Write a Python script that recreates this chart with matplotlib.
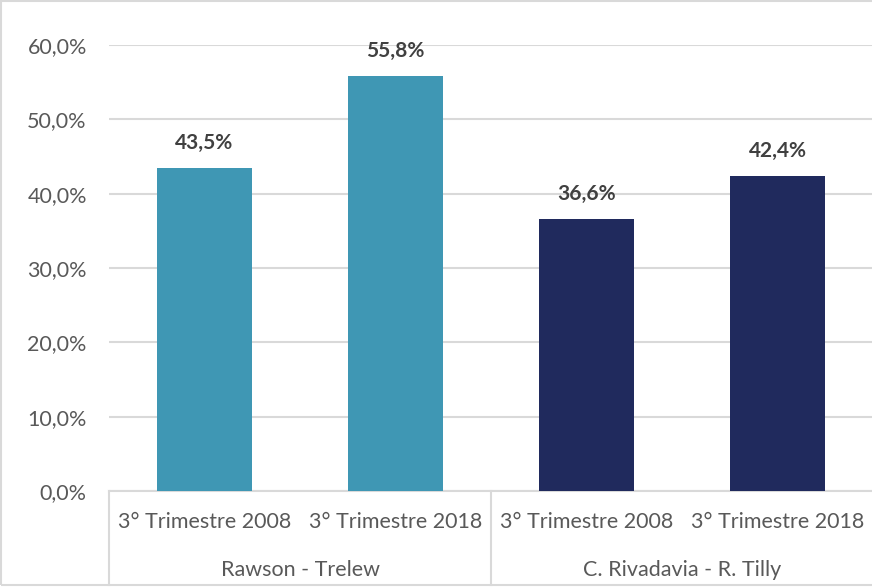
import numpy as np
import matplotlib
matplotlib.use("Agg")
import matplotlib.pyplot as plt
from matplotlib.lines import Line2D
from matplotlib.patches import Rectangle

# data
groups = ["Rawson - Trelew", "C. Rivadavia - R. Tilly"]
periods = ["3° Trimestre 2008", "3° Trimestre 2018"]
values = [43.5, 55.8, 36.6, 42.4]
bar_colors = ["#3F97B4", "#3F97B4", "#202A5D", "#202A5D"]
yticks = [0, 10, 20, 30, 40, 50, 60]

plt.rcParams['font.family'] = ['Lato', 'DejaVu Sans']

fig = plt.figure(figsize=(8.72, 5.88), dpi=100)
ax = fig.add_axes([109 / 872, 97 / 588, 764 / 872, 446 / 588])

pos = np.arange(len(values))
ax.bar(pos, values, width=0.5, color=bar_colors, zorder=3)

ax.set_xlim(-0.5, len(values) - 0.5)
ax.set_ylim(0, 60)
ax.set_yticks(yticks)
ax.set_yticklabels([f"{v:.1f}%".replace('.', ',') for v in yticks],
                   fontsize=15.5, color="#595959")
ax.tick_params(axis='y', length=0, pad=16)
ax.set_xticks([])
ax.grid(axis='y', color="#D9D9D9", linewidth=1.5, zorder=0)
for s in ["top", "right", "left"]:
    ax.spines[s].set_visible(False)
ax.spines["bottom"].set_color("#D9D9D9")
ax.spines["bottom"].set_linewidth(1.5)

# value labels
for x, v in zip(pos, values):
    ax.annotate(f"{v:.1f}%".replace('.', ','), (x, v), xytext=(0, 18),
                textcoords='offset points', ha='center', va='center',
                fontsize=15, fontweight='bold', color="#404040")

# two-level category axis
trans = ax.get_xaxis_transform()
n_per = len(periods)
for i, x in enumerate(pos):
    ax.text(x, -0.0695, periods[i % n_per], transform=trans, ha='center',
            va='center', fontsize=15.5, color="#595959")
for g, name in enumerate(groups):
    xc = np.mean(pos[g * n_per:(g + 1) * n_per])
    ax.text(xc, -0.177, name, transform=trans, ha='center', va='center',
            fontsize=15.5, color="#595959")
for xb in np.arange(len(groups) + 1) * n_per - 0.5:
    ax.add_line(Line2D([xb, xb], [0, -0.211], transform=trans,
                       color="#D9D9D9", linewidth=1.5, clip_on=False))

# outer chart border
fig.add_artist(Rectangle((1 / 872, 3 / 588), 1.0, 584 / 588,
                         transform=fig.transFigure, fill=False,
                         edgecolor="#D9D9D9", linewidth=1.5))

fig.savefig("out.png", dpi=100)
